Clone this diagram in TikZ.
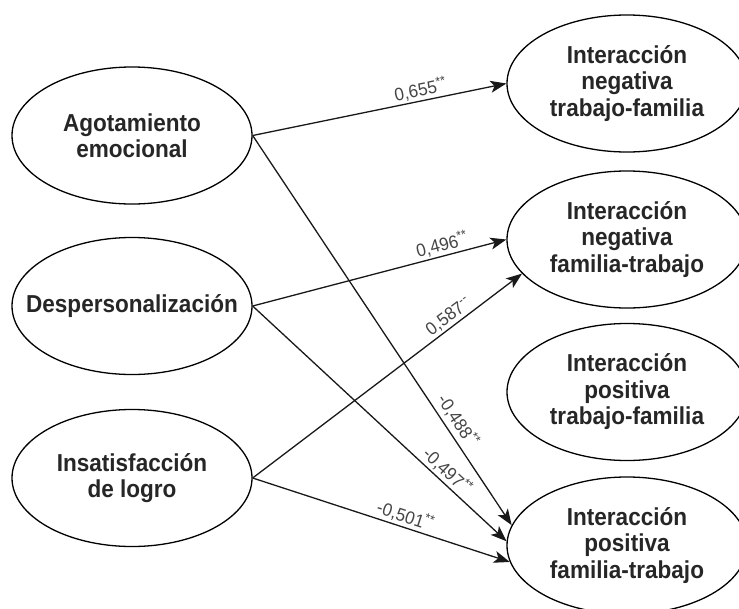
\documentclass[tikz,border=0pt]{standalone}
\usepackage{fontspec}
\setmainfont{Liberation Sans}
\newfontfamily\nodefont[FakeStretch=0.92]{Liberation Sans}
\newfontfamily\labfont[FakeStretch=0.95]{Liberation Sans}
\usetikzlibrary{shapes.geometric,arrows.meta}
\definecolor{txt}{HTML}{262626}
\definecolor{lab}{HTML}{454545}
\newcommand{\sig}[1]{\raisebox{0.36em}{\fontsize{13}{13}\selectfont #1}}
\begin{document}
\begin{tikzpicture}[x=1pt,y=-1pt,
  latent/.style={ellipse, draw=black, line width=1.3pt, minimum width=240pt, minimum height=137pt,
    inner sep=0pt},
  ntext/.style={align=center, text=txt, inner sep=0pt,
    font=\nodefont\bfseries\fontsize{24.5}{26.5}\selectfont},
  conn/.style={line width=1.3pt, draw=black!90, -{Stealth[length=16pt,width=12pt,inset=4pt]}},
  coef/.style={sloped, above, inner sep=2pt, text=lab, font=\labfont\fontsize{18}{20}\selectfont}
]
\clip (0,0) rectangle (739,608);
\fill[white] (0,0) rectangle (739,608);

\node[latent] (A) at (132,135.5) {};
\node[latent] (D) at (132,306) {};
\node[latent] (I) at (132,478) {};
\node[latent] (R1) at (627,83.5) {};
\node[latent] (R2) at (627,239.5) {};
\node[latent] (R3) at (627,392) {};
\node[latent] (R4) at (627,545.5) {};

\node[ntext] (tA) at (A) {Agotamiento\\emocional};
\node[ntext] (tD) at (D) {Despersonalización};
\node[ntext] (tI) at (I) {Insatisfacción\\de logro};
\node[ntext] (tR1) at (R1) {Interacción\\negativa\\trabajo-familia};
\node[ntext] (tR2) at (R2) {Interacción\\negativa\\familia-trabajo};
\node[ntext] (tR3) at (R3) {Interacción\\positiva\\trabajo-familia};
\node[ntext] (tR4) at (R4) {Interacción\\positiva\\familia-trabajo};

\draw[conn] (A.east) -- (R1.west) node[coef, pos=0.67] {0,655\sig{**}};
\draw[conn] (A.east) -- (R4.170) node[coef, pos=0.75, inner sep=4pt] {-0,488\sig{**}};
\draw[conn] (D.east) -- (R2.west) node[coef, pos=0.757] {0,496\sig{**}};
\draw[conn] (D.east) -- (R4.178) node[coef, pos=0.736] {-0,497\sig{**}};
\draw[conn] (I.east) -- (R2.198) node[coef, pos=0.75] {0,587\sig{-{}-}};
\draw[conn] (I.east) -- (R4.188) node[coef, pos=0.58] {-0,501\sig{**}};
\end{tikzpicture}
\end{document}
